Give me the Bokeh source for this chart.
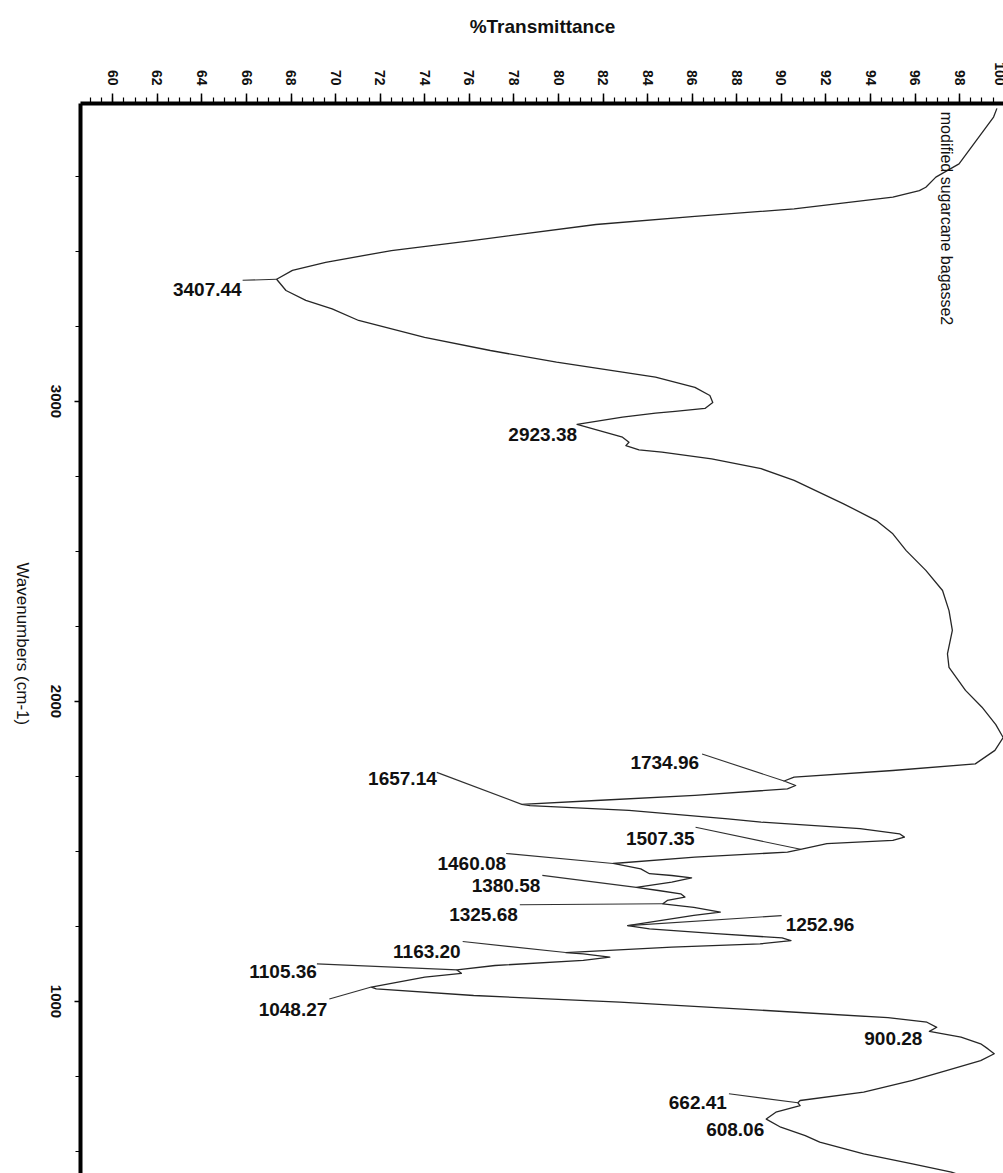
import math
from bokeh.plotting import figure
from bokeh.models import Range1d, SingleIntervalTicker, FixedTicker, Label, LinearAxis
from bokeh.embed import file_html
from bokeh.resources import INLINE

# ---------------- data ----------------
wavenumber = [
    3977, 3948, 3792, 3748, 3714, 3703, 3681, 3642, 3617, 3590, 3537, 3503, 3464, 3437,
    3407.44, 3370, 3337, 3309, 3270, 3214, 3170, 3131, 3098, 3081, 3047, 3020, 2997, 2977,
    2967, 2961, 2948, 2923.38, 2903, 2881, 2864, 2853, 2839, 2831, 2809, 2776, 2737, 2659,
    2603, 2559, 2503, 2437, 2370, 2303, 2237, 2159, 2114, 2037, 1981, 1923, 1880, 1837,
    1792, 1770, 1748, 1734.96, 1720, 1709, 1687, 1670, 1657.14, 1653, 1637, 1609, 1598,
    1576, 1559, 1548, 1537, 1526, 1507.35, 1498, 1481, 1460.08, 1442, 1426, 1420, 1412,
    1398, 1380.58, 1370, 1359, 1348, 1337, 1325.68, 1314, 1298, 1287, 1252.96, 1242, 1226,
    1212, 1203, 1192, 1181, 1163.20, 1159, 1148, 1137, 1120, 1105.36, 1094, 1081, 1048.27,
    1042, 1020, 998, 970, 946, 931, 914, 900.28, 881, 859, 842, 826, 803, 770, 737, 698,
    670, 662.41, 653, 631, 608.06, 581, 553, 531, 492, 459, 431, 403,
]
transmittance = [
    99.67, 99.52, 97.97, 96.93, 96.48, 96.19, 95.00, 90.57, 86.12, 81.68, 76.21, 72.50, 69.55, 68.06,
    67.35, 67.77, 68.66, 69.84, 71.03, 73.99, 76.94, 79.91, 82.87, 84.35, 86.12, 86.79, 86.92, 86.57,
    85.23, 84.35, 82.87, 80.83, 81.83, 82.87, 83.16, 83.02, 83.61, 84.64, 86.87, 89.09, 90.57, 92.79,
    94.26, 95.00, 95.60, 96.48, 97.23, 97.52, 97.67, 97.45, 97.52, 98.26, 99.00, 99.62, 99.95, 99.58,
    98.70, 95.00, 90.57, 90.12, 90.64, 90.27, 86.12, 81.68, 78.35, 78.72, 83.16, 87.60, 89.09,
    93.53, 95.30, 95.52, 95.00, 92.04, 90.86, 90.27, 86.12, 82.45, 83.69, 84.08, 85.08, 85.97,
    85.08, 83.49, 84.48, 85.48, 85.67, 84.88, 84.68, 86.07, 87.26, 86.07, 83.10, 84.08, 87.06,
    90.03, 90.43, 89.04, 85.08, 80.32, 81.11, 82.30, 81.11, 77.15, 75.44, 75.64, 74.00, 71.60,
    71.82, 76.19, 82.75, 89.32, 94.78, 96.53, 96.97, 96.64, 98.06, 98.94, 99.27, 99.55, 98.94, 97.40, 95.88, 93.69,
    90.84, 90.74, 90.84, 89.75, 89.32, 89.97, 91.07, 91.72, 93.69, 95.88, 97.63, 98.79,
]

peak_wn = [3407.44, 2923.38, 1734.96, 1657.14, 1507.35, 1460.08, 1380.58, 1325.68,
           1252.96, 1163.20, 1105.36, 1048.27, 900.28, 662.41, 608.06]
peak_tr = [67.35, 80.83, 90.12, 78.35, 90.86, 82.45, 83.49, 84.68,
           83.10, 80.32, 75.44, 71.60, 96.64, 90.74, 89.32]

wn_ticks = [1000, 2000, 3000]

sample_name = "modified sugarcane bagasse2"
x_title = "%Transmittance"
y_title = "Wavenumbers (cm-1)"

# ---------------- layout (screen offsets, px; y positive = downward) ----------------
# (text dx, text dy, align, leader dx, leader dy or None)
label_layout = [
    (-35, 10, "right", -34, 1),
    (0, 10, "right", None, None),
    (-85, -19, "right", -82, -27),
    (-85, -26, "right", -85, -32),
    (-106, -11, "right", -105, -22),
    (-107, 0, "right", -107, -10),
    (-96, -2, "right", -94, -12),
    (-145, 11, "right", -143, 1),
    (158, -1, "left", 154, -10),
    (-105, -1, "right", -103, -11),
    (-140, 2, "right", -140, -6),
    (-44, 22, "right", -42, 12),
    (-7, 7, "right", None, None),
    (-71, 0, "right", -69, -9),
    (-2, 10, "right", None, None),
]

X0, X1 = 58.55, 100.01
Y0, Y1 = 426.7, 3993.3
FW, FH = 924, 1070
sx = FW / (X1 - X0)
sy = FH / (Y1 - Y0)

FONT = "Liberation Sans"
FS_YTICK = 15
FS_YTITLE = 17

p = figure(frame_width=FW, frame_height=FH,
           x_range=Range1d(X0, X1), y_range=Range1d(Y0, Y1),
           x_axis_location="above", toolbar_location=None, output_backend="svg",
           min_border_left=79, min_border_top=103, min_border_right=0, min_border_bottom=0,
           background_fill_color="white", border_fill_color="white")
p.outline_line_color = None
p.xgrid.grid_line_color = None
p.ygrid.grid_line_color = None

p.line(transmittance, wavenumber, line_color="#262626", line_width=1.3, line_join="round")

# leader lines
lx0, ly0, lx1, ly1 = [], [], [], []
for (t, w, lay) in zip(peak_tr, peak_wn, label_layout):
    if lay[3] is None:
        continue
    lx0.append(t + lay[3] / sx)
    ly0.append(w - lay[4] / sy)
    lx1.append(t)
    ly1.append(w)
p.segment(x0=lx0, y0=ly0, x1=lx1, y1=ly1, line_color="#303030", line_width=1.1)

for (t, w, lay) in zip(peak_tr, peak_wn, label_layout):
    p.add_layout(Label(x=t, y=w, x_offset=lay[0], y_offset=-lay[1],
                       text="%.2f" % w, text_align=lay[2], text_baseline="middle",
                       text_font=FONT, text_font_size="19px", text_font_style="bold",
                       text_color="#111111"))

# ---------------- top axis ----------------
xa = p.xaxis[0]
xa.ticker = SingleIntervalTicker(interval=2, num_minor_ticks=4)
xa.axis_label = x_title
xa.axis_label_text_font = FONT
xa.axis_label_text_font_size = "19px"
xa.axis_label_text_font_style = "bold"
xa.axis_label_text_color = "#111111"
xa.axis_label_standoff = 22
xa.major_label_orientation = -math.pi / 2
xa.major_label_text_font = FONT
xa.major_label_text_font_size = "14px"
xa.major_label_text_font_style = "bold"
xa.major_label_text_color = "#111111"
xa.major_label_standoff = 8
xa.major_tick_out = 10
xa.major_tick_in = 0
xa.minor_tick_out = 6
xa.minor_tick_in = 0
xa.axis_line_width = 4
xa.major_tick_line_width = 1.5
xa.minor_tick_line_width = 1.2

# ---------------- left axis: line + ticks only ----------------
ya = p.yaxis[0]
ya.ticker = SingleIntervalTicker(interval=1000, num_minor_ticks=4)
ya.major_label_overrides = {v: "" for v in [0, 1000, 2000, 3000, 4000]}
ya.major_label_text_font_size = "1px"
ya.major_label_standoff = 0
ya.major_tick_out = 6
ya.major_tick_in = 0
ya.minor_tick_out = 5
ya.minor_tick_in = 0
ya.axis_line_width = 4
ya.major_tick_line_width = 1.3
ya.minor_tick_line_width = 1.0


def bare_left_axis(ticks, labels, size, style, standoff):
    ax = LinearAxis(ticker=FixedTicker(ticks=ticks),
                    major_label_overrides=dict(zip(ticks, labels)),
                    axis_line_color=None, major_tick_line_color=None,
                    minor_tick_line_color=None, major_tick_out=0, minor_tick_out=0,
                    major_tick_in=0, minor_tick_in=0,
                    major_label_orientation=-math.pi / 2,
                    major_label_standoff=standoff,
                    major_label_text_font=FONT,
                    major_label_text_font_size="%dpx" % size,
                    major_label_text_font_style=style,
                    major_label_text_color="#111111")
    p.add_layout(ax, "left")
    return ax


# rotated tick labels (top-to-bottom like the scan), centred on their ticks
half_tick = 0.5 * 4 * 0.556 * FS_YTICK / sy
tick_pos = [round(v - half_tick, 1) for v in wn_ticks]
bare_left_axis(tick_pos, [str(v) for v in wn_ticks], FS_YTICK, "bold", 19)

# rotated axis title, a little below the frame centre as in the scan
half_title = 0.5 * 9.61 * FS_YTITLE / sy
title_pos = [round((Y0 + Y1) / 2 - (5 / sy) - half_title, 1)]
bare_left_axis(title_pos, [y_title], FS_YTITLE, "normal", 20)

# sample name
p.add_layout(Label(x=97.4, y=3610, text=sample_name, angle=-math.pi / 2,
                   text_align="center", text_baseline="middle", text_font=FONT,
                   text_font_size="16px", text_color="#111111"))

open("out.html", "w").write(file_html(p, INLINE))
